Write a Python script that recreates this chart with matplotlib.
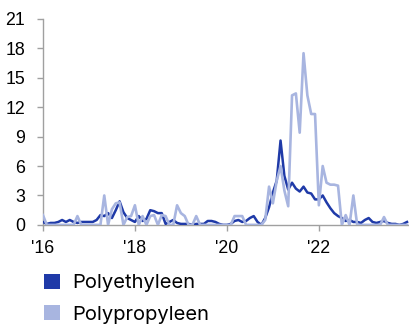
import numpy as np
import matplotlib
matplotlib.use("Agg")
import matplotlib.pyplot as plt
from matplotlib.patches import Patch

# monthly values, Jan 2016 - Dec 2023
polyethyleen = [
    0.3, 0.1, 0.2, 0.2, 0.3, 0.5, 0.3, 0.5, 0.3, 0.2, 0.3, 0.3,   # 2016
    0.3, 0.3, 0.5, 1.0, 0.9, 1.2, 0.7, 1.5, 2.4, 1.3, 0.7, 0.5,   # 2017
    0.3, 0.9, 0.4, 0.6, 1.5, 1.4, 1.2, 1.2, 0.1, 0.3, 0.5, 0.2,   # 2018
    0.1, 0.1, 0.1, 0.0, 0.1, 0.1, 0.1, 0.4, 0.4, 0.3, 0.1, 0.0,   # 2019
    0.0, 0.1, 0.4, 0.5, 0.3, 0.4, 0.7, 0.9, 0.3, 0.0, 0.7, 1.8,   # 2020
    3.3, 4.5, 8.6, 5.0, 3.6, 4.3, 3.7, 3.4, 3.9, 3.3, 3.2, 2.6,   # 2021
    2.6, 3.0, 2.3, 1.7, 1.2, 0.9, 0.7, 0.4, 0.5, 0.3, 0.3, 0.2,   # 2022
    0.5, 0.7, 0.3, 0.2, 0.3, 0.4, 0.2, 0.1, 0.1, 0.0, 0.1, 0.3,   # 2023
]
polypropyleen = [
    1.0, 0.0, 0.0, 0.0, 0.0, 0.0, 0.0, 0.0, 0.0, 0.9, 0.0, 0.0,   # 2016
    0.0, 0.0, 0.0, 0.0, 3.0, 0.0, 1.6, 2.2, 2.3, 0.0, 0.8, 0.9,   # 2017
    2.0, 0.0, 0.9, 0.0, 0.9, 1.0, 0.0, 1.0, 0.9, 0.0, 0.0, 2.0,   # 2018
    1.2, 0.9, 0.0, 0.0, 0.9, 0.0, 0.0, 0.0, 0.0, 0.0, 0.0, 0.0,   # 2019
    0.0, 0.0, 0.9, 0.9, 0.9, 0.0, 0.0, 0.0, 0.0, 0.0, 0.5, 3.9,   # 2020
    2.2, 4.5, 6.0, 3.5, 1.9, 13.2, 13.4, 9.4, 17.5, 13.2, 11.3, 11.3,  # 2021
    2.0, 6.0, 4.3, 4.1, 4.1, 4.0, 0.0, 1.0, 0.0, 3.0, 0.0, 0.0,   # 2022
    0.0, 0.0, 0.0, 0.0, 0.0, 0.8, 0.0, 0.0, 0.0, 0.0, 0.0, 0.0,   # 2023
]
labels = ["Polyethyleen", "Polypropyleen"]
xtick_years = [2016, 2018, 2020, 2022]
xtick_labels = ["'16", "'18", "'20", "'22"]
yticks = [0, 3, 6, 9, 12, 15, 18, 21]

dark = "#1f3aa8"
light = "#a8b5e0"
axis_col = "#a0a0a0"

t = 2016 + np.arange(len(polyethyleen)) / 12

fig = plt.figure(figsize=(4.09, 3.25), dpi=100)
ax = fig.add_axes([0.105, 0.308, 0.895, 0.634])

ax.plot(t, polyethyleen, color=dark, lw=1.8, zorder=3)
ax.plot(t, polypropyleen, color=light, lw=1.9, zorder=4)

ax.set_xlim(2016, 2023.96)
ax.set_ylim(0, 21)
ax.set_xticks(xtick_years)
ax.set_xticklabels(xtick_labels)
ax.set_yticks(yticks)

for s in ["top", "right"]:
    ax.spines[s].set_visible(False)
for s in ["left", "bottom"]:
    ax.spines[s].set_color(axis_col)
    ax.spines[s].set_linewidth(1.0)
ax.tick_params(axis="both", colors=axis_col, length=4, width=1.0, labelcolor="black")
ax.tick_params(axis="y", pad=9)
ax.tick_params(axis="x", pad=7)
for lab in ax.get_xticklabels() + ax.get_yticklabels():
    lab.set_fontfamily("Liberation Sans")
    lab.set_fontsize(12.8)

handles = [Patch(facecolor=dark, edgecolor="none"), Patch(facecolor=light, edgecolor="none")]
fig.legend(handles, labels, loc="upper left", bbox_to_anchor=(0.107, 0.158),
           frameon=False, handlelength=0.8, handleheight=0.8, handletextpad=0.6,
           labelspacing=0.62, borderaxespad=0, borderpad=0,
           prop={"family": "Inter", "size": 14.5})

fig.savefig("out.png", dpi=100)
